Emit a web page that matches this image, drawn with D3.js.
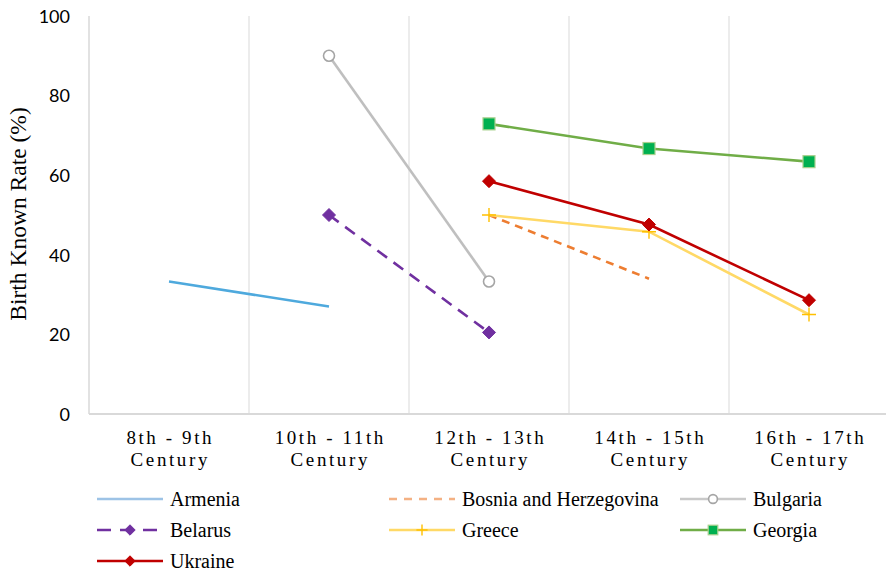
<!DOCTYPE html>
<html><head><meta charset="utf-8">
<script src="https://cdn.jsdelivr.net/npm/d3@7/dist/d3.min.js"></script>
<style>body{margin:0;background:#fff}svg{display:block}</style>
</head><body><svg id="c" width="886" height="572"></svg>
<script>
const categories = ["8th - 9th|Century","10th - 11th|Century","12th - 13th|Century","14th - 15th|Century","16th - 17th|Century"];
const yTicks = [0,20,40,60,80,100];
const armenia = [33.3, 27, null, null, null];
const bosnia = [null, null, 50, 34, null];
const bulgaria = [null, 90, 33.3, null, null];
const belarus = [null, 50, 20.5, null, null];
const greece = [null, null, 50, 45.8, 25];
const georgia = [null, null, 72.9, 66.7, 63.4];
const ukraine = [null, null, 58.5, 47.6, 28.6];

const series = [
  {name:"Armenia", values:armenia, color:"#4EA9DD", legendColor:"#9DC3E6", dash:null, marker:null, col:0, row:0},
  {name:"Bosnia and Herzegovina", values:bosnia, color:"#ED7D31", legendColor:"#F4B183", dash:"8,6", marker:null, col:1, row:0},
  {name:"Bulgaria", values:bulgaria, color:"#BFBFBF", legendColor:"#C9C9C9", dash:null, marker:"circle", col:2, row:0},
  {name:"Belarus", values:belarus, color:"#7030A0", legendColor:"#7030A0", dash:"12,8", marker:"diamond", col:0, row:1},
  {name:"Greece", values:greece, color:"#FFD966", legendColor:"#FFD966", dash:null, marker:"plus", col:1, row:1},
  {name:"Georgia", values:georgia, color:"#70AD47", legendColor:"#70AD47", dash:null, marker:"square", col:2, row:1},
  {name:"Ukraine", values:ukraine, color:"#C00000", legendColor:"#C00000", dash:null, marker:"diamond", col:0, row:2}
];

const svg = d3.select("#c");
const pLeft = 89, pRight = 889, pTop = 16, pBottom = 414;
const x = d3.scaleBand().domain(categories).range([pLeft, pRight]).padding(0);
const y = d3.scaleLinear().domain([0,100]).range([pBottom, pTop]);
const cx = c => x(c) + x.bandwidth()/2;
const serif = "'Liberation Serif', 'Times New Roman', serif";

// vertical gridlines
const bounds = categories.map(c => x(c) + x.bandwidth()).slice(0, -1);
svg.selectAll(".grid").data(bounds).enter().append("line")
  .attr("x1", d=>d).attr("x2", d=>d).attr("y1", pTop).attr("y2", pBottom)
  .attr("stroke", "#D9D9D9").attr("stroke-width", 1);
svg.append("line").attr("x1", pLeft).attr("x2", pLeft).attr("y1", pTop).attr("y2", pBottom)
  .attr("stroke", "#D9D9D9").attr("stroke-width", 1.5);
svg.append("line").attr("x1", pLeft).attr("x2", pRight).attr("y1", pBottom).attr("y2", pBottom)
  .attr("stroke", "#D9D9D9").attr("stroke-width", 2);

// y axis labels
const yAxis = d3.axisLeft(y).tickValues(yTicks).tickSize(0).tickPadding(0);
const yg = svg.append("g").attr("transform", `translate(${pLeft-19},0)`).call(yAxis);
yg.select(".domain").remove();
yg.selectAll("text").attr("font-family", "Lato, 'Open Sans', sans-serif").attr("font-size", 18).attr("fill", "#000").attr("dy", "0.35em");

svg.append("text").attr("transform", `translate(26,${(pTop+pBottom)/2 - 1}) rotate(-90)`)
  .attr("text-anchor", "middle").attr("font-family", serif)
  .attr("font-size", 23.5).attr("fill", "#000").text("Birth Known Rate (%)");

// x labels
const xl = svg.append("g");
categories.forEach(c => {
  const parts = c.split("|");
  const t = xl.append("text").attr("text-anchor", "middle")
    .attr("font-family", serif).attr("font-size", 19)
    .attr("letter-spacing", "2.6px").attr("fill", "#000");
  t.append("tspan").attr("x", cx(c) + 1.3).attr("y", 444).text(parts[0]);
  t.append("tspan").attr("x", cx(c) + 1.3).attr("y", 466).text(parts[1]);
});

function drawMarker(g, type, px, py, s, k) {
  k = k || 1;
  if (type === "circle") {
    g.append("circle").attr("cx", px).attr("cy", py).attr("r", 5.5*k).attr("fill", "#fff").attr("stroke", "#A5A5A5").attr("stroke-width", 1.6);
  } else if (type === "diamond") {
    const r = 6.5*k;
    g.append("path").attr("d", `M${px},${py-r}L${px+r},${py}L${px},${py+r}L${px-r},${py}Z`).attr("fill", s.color).attr("stroke", s.color).attr("stroke-width", 1);
  } else if (type === "square") {
    const h = 6*k;
    g.append("rect").attr("x", px-h).attr("y", py-h).attr("width", 2*h).attr("height", 2*h).attr("fill", "#00B050").attr("stroke", "#A9D18E").attr("stroke-width", 1.2);
  } else if (type === "plus") {
    const r = 7*k;
    g.append("path").attr("d", `M${px-r},${py}H${px+r}M${px},${py-r}V${py+r}`).attr("stroke", "#FFC000").attr("stroke-width", 1.4).attr("fill", "none");
  }
}

const line = d3.line().defined(d => d.v != null).x(d => cx(d.c)).y(d => y(d.v));
const plot = svg.append("g");
series.forEach(s => {
  const pts = s.values.map((v,i) => ({c: categories[i], v}));
  plot.append("path").datum(pts).attr("d", line).attr("fill", "none")
    .attr("stroke", s.color).attr("stroke-width", 2.6)
    .attr("stroke-dasharray", s.dash);
});
series.forEach(s => {
  if (!s.marker) return;
  s.values.forEach((v,i) => { if (v != null) drawMarker(plot, s.marker, cx(categories[i]), y(v), s, 1); });
});

// legend
const colX = [97, 389, 680];
const rowY = [499, 530, 561];
const lg = svg.append("g");
series.forEach(s => {
  const x0 = colX[s.col], yy = rowY[s.row];
  lg.append("line").attr("x1", x0).attr("x2", x0+66).attr("y1", yy).attr("y2", yy)
    .attr("stroke", s.legendColor).attr("stroke-width", 2.6).attr("stroke-dasharray", s.dash ? (s.name==="Belarus" ? "14,9" : "8,7") : null);
  if (s.marker) drawMarker(lg, s.marker, x0+33, yy, s, 0.8);
  lg.append("text").attr("x", x0+73).attr("y", yy).attr("dy", "0.33em")
    .attr("font-family", serif).attr("font-size", 20)
    .attr("fill", "#000").text(s.name);
});
</script></body></html>
